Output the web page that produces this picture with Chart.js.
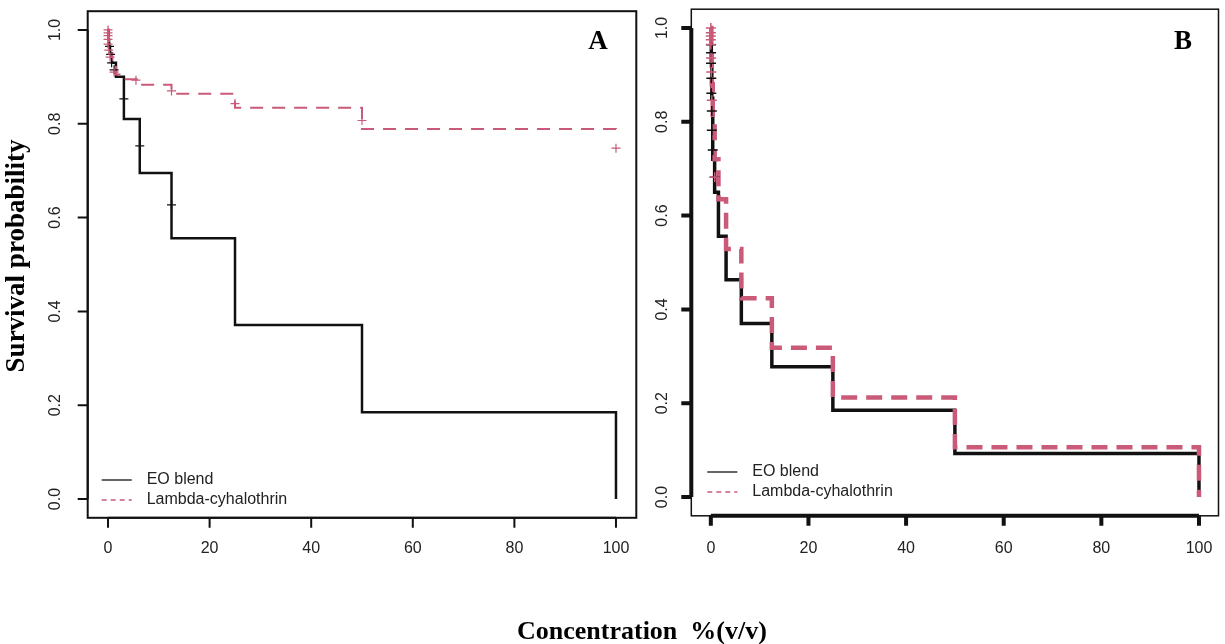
<!DOCTYPE html>
<html>
<head>
<meta charset="utf-8">
<script src="https://cdn.jsdelivr.net/npm/chart.js@4.4.1/dist/chart.umd.min.js"></script>
<style>
  body { margin: 0; background: #fff; }
  canvas { position: absolute; top: 0; }
  #chartA { left: 0; }
  #chartB { left: 640px; }
</style>
</head>
<body>
<canvas id="chartA" width="1225" height="644"></canvas>
<canvas id="chartB" width="585" height="644"></canvas>
<script>
// concentrations where the curves step (doubling dilutions)
const times = [0, 0.1, 0.2, 0.39, 0.78, 1.56, 3.125, 6.25, 12.5, 25, 50, 100]

// panel A survival estimates
const eoA = [1, 0.98, 0.965, 0.95, 0.93, 0.90, 0.81, 0.695, 0.556, 0.371, 0.185, 0]
const lambdaA = [1, 0.985, 0.97, 0.95, 0.93, 0.905, 0.895, 0.883, 0.864, 0.834, 0.789, 0.78]

// panel B survival estimates
const eoB = [1, 0.93, 0.85, 0.72, 0.65, 0.556, 0.463, 0.370, 0.278, 0.185, 0.093, 0]
const lambdaB = [1, 0.96, 0.88, 0.80, 0.72, 0.635, 0.529, 0.424, 0.318, 0.212, 0.106, 0]

// censor marks (+)
const eoCensorAx = [0.3, 0.5, 0.7, 1.2, 3.125, 6.25, 12.5]
const eoCensorAy = [0.965, 0.948, 0.93, 0.915, 0.853, 0.753, 0.627]
const lambdaCensorAx = [0, 0, 0, 0, 0, 0.15, 0.4, 1.2, 5.5, 12.5, 25, 50, 100]
const lambdaCensorAy = [1.0, 0.994, 0.988, 0.98, 0.97, 0.957, 0.942, 0.91, 0.893, 0.87, 0.843, 0.807, 0.748]
const eoCensorBx = [0.05, 0.05, 0.05, 0.1, 0.1, 0.2, 0.2, 0.39, 0.78]
const eoCensorBy = [0.964, 0.947, 0.925, 0.893, 0.861, 0.823, 0.782, 0.74, 0.682]
const lambdaCensorBx = [0, 0, 0, 0, 0, 0.05, 0.1, 0.2, 0.8]
const lambdaCensorBy = [1.0, 0.99, 0.983, 0.975, 0.965, 0.936, 0.906, 0.846, 0.682]

const xTicks = [0, 20, 40, 60, 80, 100]
const xTickLabels = ['0', '20', '40', '60', '80', '100']
const yTicks = [0, 0.2, 0.4, 0.6, 0.8, 1.0]
const yTickLabels = ['0.0', '0.2', '0.4', '0.6', '0.8', '1.0']
const seriesNames = ['EO blend', 'Lambda-cyhalothrin']

const pink = '#C95A78'
const sans = '"Liberation Sans", Arial, sans-serif'
const serif = '"Liberation Serif", "Times New Roman", serif'

function toPoints(xs, ys){
    return xs.map((x, i) => ({x: x, y: ys[i]}))
}

// R style box, axes, labels and legend
function rAxes(opts){
    return {
        id: 'rAxes',
        afterDraw(chart){
            const ctx = chart.ctx
            const area = chart.chartArea
            const xs = chart.scales.x
            const ys = chart.scales.y
            ctx.save()
            ctx.strokeStyle = '#111'
            ctx.lineWidth = opts.boxWidth
            ctx.strokeRect(area.left, area.top, area.right - area.left, area.bottom - area.top)

            // axis lines between first and last ticks
            ctx.lineWidth = opts.axisWidth
            ctx.lineCap = 'butt'
            ctx.beginPath()
            ctx.moveTo(area.left, ys.getPixelForValue(yTicks[0]))
            ctx.lineTo(area.left, ys.getPixelForValue(yTicks[yTicks.length - 1]))
            ctx.moveTo(xs.getPixelForValue(xTicks[0]), area.bottom)
            ctx.lineTo(xs.getPixelForValue(xTicks[xTicks.length - 1]), area.bottom)
            yTicks.forEach(v => {
                const py = ys.getPixelForValue(v)
                ctx.moveTo(area.left, py)
                ctx.lineTo(area.left - 10, py)
            })
            xTicks.forEach(v => {
                const px = xs.getPixelForValue(v)
                ctx.moveTo(px, area.bottom)
                ctx.lineTo(px, area.bottom + 10)
            })
            ctx.stroke()

            ctx.fillStyle = '#222'
            ctx.font = '16px ' + sans
            ctx.textAlign = 'center'
            ctx.textBaseline = 'middle'
            xTicks.forEach((v, i) => {
                ctx.fillText(xTickLabels[i], xs.getPixelForValue(v), 549)
            })
            yTicks.forEach((v, i) => {
                ctx.save()
                ctx.translate(area.left - opts.yLabelGap, ys.getPixelForValue(v))
                ctx.rotate(-Math.PI / 2)
                ctx.fillText(yTickLabels[i], 0, 0)
                ctx.restore()
            })

            // panel letter
            ctx.fillStyle = '#000'
            ctx.font = 'bold 27px ' + serif
            ctx.fillText(opts.letter, opts.letterX, 42)

            // legend
            const lx = area.left + opts.legendDx
            const legendY = [opts.legendY, opts.legendY + 20]
            ctx.lineWidth = 1.3
            ctx.strokeStyle = '#111'
            ctx.beginPath()
            ctx.moveTo(lx, legendY[0])
            ctx.lineTo(lx + 30, legendY[0])
            ctx.stroke()
            ctx.strokeStyle = pink
            ctx.setLineDash([5, 4])
            ctx.beginPath()
            ctx.moveTo(lx, legendY[1])
            ctx.lineTo(lx + 30, legendY[1])
            ctx.stroke()
            ctx.setLineDash([])
            ctx.fillStyle = '#222'
            ctx.font = '16px ' + sans
            ctx.textAlign = 'left'
            seriesNames.forEach((name, i) => {
                ctx.fillText(name, lx + 45, legendY[i])
            })

            if(opts.titles){
                ctx.fillStyle = '#000'
                ctx.font = 'bold 26px ' + serif
                ctx.textAlign = 'left'
                ctx.fillText('Concentration  %(v/v)', 517, 632)
                ctx.save()
                ctx.translate(17, 256)
                ctx.rotate(-Math.PI / 2)
                ctx.textAlign = 'center'
                ctx.font = 'bold 27px ' + serif
                ctx.fillText('Survival probability', 0, 0)
                ctx.restore()
            }
            ctx.restore()
        }
    }
}

function makeChart(id, eo, lambda, eoC, lambdaC, style, padding, axesOpts){
    return new Chart(document.getElementById(id), {
        type: 'scatter',
        data: {
            datasets: [
                {
                    label: 'Lambda-cyhalothrin censored',
                    data: lambdaC,
                    pointStyle: 'cross',
                    pointRadius: style.crossR,
                    borderColor: pink,
                    borderWidth: style.crossW,
                    showLine: false
                },
                {
                    label: 'EO blend censored',
                    data: eoC,
                    pointStyle: 'cross',
                    pointRadius: style.crossR,
                    borderColor: '#111',
                    borderWidth: style.crossW,
                    showLine: false
                },
                {
                    label: 'Lambda-cyhalothrin',
                    data: toPoints(times, lambda),
                    showLine: true,
                    stepped: true,
                    borderColor: pink,
                    borderWidth: style.pinkW,
                    borderDash: style.dash,
                    pointRadius: 0
                },
                {
                    label: 'EO blend',
                    data: toPoints(times, eo),
                    showLine: true,
                    stepped: true,
                    borderColor: '#111',
                    borderWidth: style.blackW,
                    pointRadius: 0
                }
            ]
        },
        options: {
            responsive: false,
            animation: false,
            layout: {padding: padding},
            plugins: {legend: {display: false}, tooltip: {enabled: false}},
            scales: {
                x: {type: 'linear', min: -4, max: 104, display: false},
                y: {type: 'linear', min: -0.04, max: 1.04, display: false}
            }
        },
        plugins: [rAxes(axesOpts)]
    })
}

makeChart('chartA', eoA, lambdaA,
    toPoints(eoCensorAx, eoCensorAy), toPoints(lambdaCensorAx, lambdaCensorAy),
    {blackW: 2.5, pinkW: 2, dash: [13, 9], crossR: 4.5, crossW: 1.2},
    {left: 87.7, right: 588.7, top: 11.2, bottom: 126.2},
    {boxWidth: 2, axisWidth: 2, yLabelGap: 32, letter: 'A', letterX: 598, legendDx: 14, legendY: 480, titles: true})

makeChart('chartB', eoB, lambdaB,
    toPoints(eoCensorBx, eoCensorBy), toPoints(lambdaCensorBx, lambdaCensorBy),
    {blackW: 3.5, pinkW: 4.5, dash: [16, 9], crossR: 5, crossW: 1.5},
    {left: 51.3, right: 2.3, top: 9.2, bottom: 128.2},
    {boxWidth: 1.5, axisWidth: 4, yLabelGap: 29, letter: 'B', letterX: 1183 - 640, legendDx: 16, legendY: 472, titles: false})
</script>
</body>
</html>
